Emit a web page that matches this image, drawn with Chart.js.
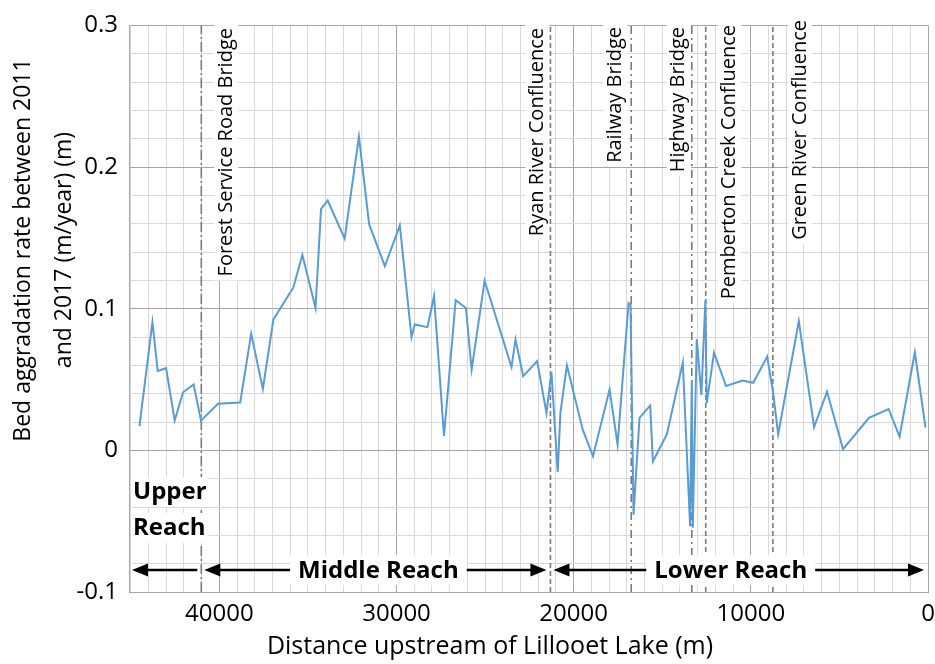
<!DOCTYPE html>
<html>
<head>
<meta charset="utf-8">
<script src="https://cdn.jsdelivr.net/npm/chart.js@4.4.1/dist/chart.umd.min.js"></script>
<style>
  html,body{margin:0;padding:0;background:#fff;}
  #wrap{width:935px;height:664px;}
</style>
</head>
<body>
<div id="wrap"><canvas id="chart" width="935" height="664"></canvas></div>
<script>
// distance upstream of Lillooet Lake (m) and bed aggradation rate (m/year)
const distance = [44510, 43778, 43480, 43007, 42522, 42049, 41452, 41036, 40079, 38823,
  38204, 37545, 36948, 35822, 35315, 34572, 34262, 33885, 32928, 32123,
  31543, 30659, 29814, 29155, 28969, 28254, 27883, 27320, 26661, 26081,
  25760, 25028, 23508, 23283, 22849, 22061, 21537, 21256, 20901, 20749,
  20383, 19493, 18908, 17973, 17522, 16903, 16790, 16622, 16284, 15681,
  15529, 14741, 13840, 13429, 13333, 13277, 13052, 12793, 12567, 12489,
  12078, 11402, 10462, 9865, 9077, 8739, 8457, 7292, 6430, 5698,
  4797, 3333, 2224, 1605, 743, 141];
const rate = [0.0171, 0.0905, 0.056, 0.058, 0.021, 0.041, 0.0465, 0.021, 0.0329, 0.0338,
  0.0824, 0.0433, 0.0924, 0.115, 0.138, 0.1005, 0.1703, 0.1764, 0.1495, 0.2215,
  0.1595, 0.130, 0.1588, 0.080, 0.0889, 0.087, 0.109, 0.0102, 0.106, 0.1005,
  0.057, 0.1197, 0.0588, 0.0783, 0.0523, 0.063, 0.0264, 0.0553, -0.0153, 0.0264,
  0.060, 0.0148, -0.0042, 0.043, 0.004, 0.104, 0.103, -0.0454, 0.0229, 0.0317,
  -0.0079, 0.0113, 0.062, -0.0535, 0.0495, -0.0547, 0.0785, 0.039, 0.106, 0.0333,
  0.069, 0.0454, 0.0493, 0.0477, 0.0662, 0.0403, 0.0113, 0.0912, 0.0164, 0.0414,
  0.0009, 0.0229, 0.0292, 0.0097, 0.0692, 0.016];

const landmarkNames = ['Forest Service Road Bridge', 'Ryan River Confluence', 'Railway Bridge',
  'Highway Bridge', 'Pemberton Creek Confluence', 'Green River Confluence'];
const landmarkDist = [41019, 21311, 16751, 13333, 12545, 8756];

const reachNames = ['Upper Reach', 'Middle Reach', 'Lower Reach'];
const reachFrom = [45100, 41019, 21311];
const reachTo = [41019, 21311, 0];

const xMin = 0, xMax = 45100;
const yMin = -0.1, yMax = 0.3;
const xTitle = 'Distance upstream of Lillooet Lake (m)';
const yTitle = ['Bed aggradation rate between 2011', 'and 2017 (m/year) (m)'];

// styles for the landmark lines / labels
const dashStyles = [[10,3,2,3], [5,3], [8,4,2,4], [8,4,2,4], [5,3], [5,3]];
const labelShift = [25, -13, -16, -13, 24, 27];
const labelTop = [28, 28, 27, 27, 25, 20];

const FONT = '"Open Sans", "Noto Sans", sans-serif';

const annotations = {
  id: 'annotations',
  beforeDatasetsDraw(chart){
    const {ctx, scales:{x}} = chart;
    ctx.save();
    ctx.font = '20px ' + FONT;
    landmarkNames.forEach((name, i) => {
      const px = x.getPixelForValue(landmarkDist[i]) + labelShift[i];
      const top = labelTop[i];
      const w = ctx.measureText(name).width;
      ctx.fillStyle = '#fff';
      ctx.fillRect(px - 12, top - 4, 24, w + 8);
      ctx.save();
      ctx.translate(px, top);
      ctx.rotate(-Math.PI/2);
      ctx.fillStyle = '#000';
      ctx.textAlign = 'right';
      ctx.textBaseline = 'middle';
      ctx.fillText(name, 0, 0);
      ctx.restore();
    });
    ctx.restore();
  },
  afterDatasetsDraw(chart){
    const {ctx, scales:{x, y}} = chart;
    const ay = y.bottom - 22;
    ctx.save();
    ctx.strokeStyle = '#000';
    ctx.fillStyle = '#000';
    ctx.lineWidth = 2.5;
    const head = (tip, dir) => {
      ctx.beginPath();
      ctx.moveTo(tip, ay);
      ctx.lineTo(tip + dir*16, ay - 6.5);
      ctx.lineTo(tip + dir*16, ay + 6.5);
      ctx.closePath();
      ctx.fill();
    };
    ctx.font = 'bold 24px ' + FONT;
    ctx.textBaseline = 'middle';
    reachNames.forEach((name, i) => {
      const l = x.getPixelForValue(reachFrom[i]) + 3;
      const r = x.getPixelForValue(reachTo[i]) - 4;
      ctx.beginPath();
      ctx.moveTo(l + 8, ay);
      ctx.lineTo(r - (i === 0 ? 0 : 8), ay);
      ctx.stroke();
      head(l, 1);
      if (i > 0) head(r, -1);
      if (i === 0) {
        const parts = name.split(' ');
        ctx.textAlign = 'left';
        parts.forEach((p, k) => {
          const w = ctx.measureText(p).width;
          const ty = y.bottom - 100 + k*36;
          ctx.fillStyle = '#fff';
          ctx.fillRect(l - 1, ty - 15, w + 4, 30);
          ctx.fillStyle = '#000';
          ctx.fillText(p, l + 1, ty);
        });
      } else {
        const cx = i === 1 ? (l + r)/2 + 3 : (l + r)/2 - 8;
        const w = ctx.measureText(name).width;
        ctx.fillStyle = '#fff';
        ctx.fillRect(cx - w/2 - 8, ay - 15, w + 16, 30);
        ctx.fillStyle = '#000';
        ctx.textAlign = 'center';
        ctx.fillText(name, cx, ay + 1);
      }
    });
    // axis titles
    ctx.textAlign = 'center';
    ctx.textBaseline = 'middle';
    ctx.fillStyle = '#000';
    ctx.font = '25px ' + FONT;
    ctx.fillText(xTitle, 490, 647);
    ctx.font = '23px ' + FONT;
    ctx.save();
    ctx.translate(0, 250);
    ctx.rotate(-Math.PI/2);
    ctx.fillText(yTitle[0], 0, 23);
    ctx.fillText(yTitle[1], 0, 64);
    ctx.restore();
    ctx.restore();
  }
};

const landmarkSets = landmarkDist.map((d, i) => ({
  data: [{x: d, y: yMin}, {x: d, y: yMax}],
  borderColor: '#7a7a7a',
  borderWidth: 1.6,
  borderDash: dashStyles[i],
  pointRadius: 0,
  order: 1
}));

const majorX = v => v % 10000 === 0;
const majorY = v => Math.round(v*100) % 10 === 0;

new Chart(document.getElementById('chart'), {
  type: 'line',
  data: {
    datasets: [{
      data: distance.map((d, i) => ({x: d, y: rate[i]})),
      borderColor: '#5b9bd5',
      borderWidth: 2,
      pointRadius: 0,
      tension: 0,
      order: 0
    }, ...landmarkSets]
  },
  options: {
    responsive: false,
    animation: false,
    layout: { padding: { top: 17, right: 7, left: 0, bottom: 0 } },
    plugins: { legend: { display: false }, tooltip: { enabled: false } },
    scales: {
      x: {
        type: 'linear',
        reverse: true,
        min: xMin,
        max: xMax,
        afterBuildTicks: s => { s.ticks = []; for (let v = 0; v <= 45000; v += 1000) s.ticks.push({value: v}); },
        afterFit: s => { s.height = 72; },
        ticks: {
          autoSkip: false, maxRotation: 0, padding: 8, color: '#000',
          font: { family: FONT, size: 24 },
          callback: v => majorX(v) ? String(v) : ''
        },
        grid: {
          drawTicks: false,
          color: c => majorX(c.tick.value) ? '#a6a6a6' : '#d9d9d9',
          lineWidth: 1
        },
        border: { color: '#a6a6a6' }
      },
      y: {
        type: 'linear',
        min: yMin,
        max: yMax,
        afterBuildTicks: s => { s.ticks = []; for (let i = 0; i <= 20; i++) s.ticks.push({value: Math.round((yMin + i*0.02)*100)/100}); },
        afterFit: s => { s.width = 129; },
        ticks: {
          autoSkip: false, padding: 11, color: '#000',
          font: { family: FONT, size: 24 },
          callback: v => majorY(v) ? String(Math.round(v*10)/10) : ''
        },
        grid: {
          drawTicks: false,
          color: c => majorY(c.tick.value) ? '#a6a6a6' : '#d9d9d9',
          lineWidth: 1
        },
        border: { color: '#a6a6a6' }
      }
    }
  },
  plugins: [annotations]
});
</script>
</body>
</html>
